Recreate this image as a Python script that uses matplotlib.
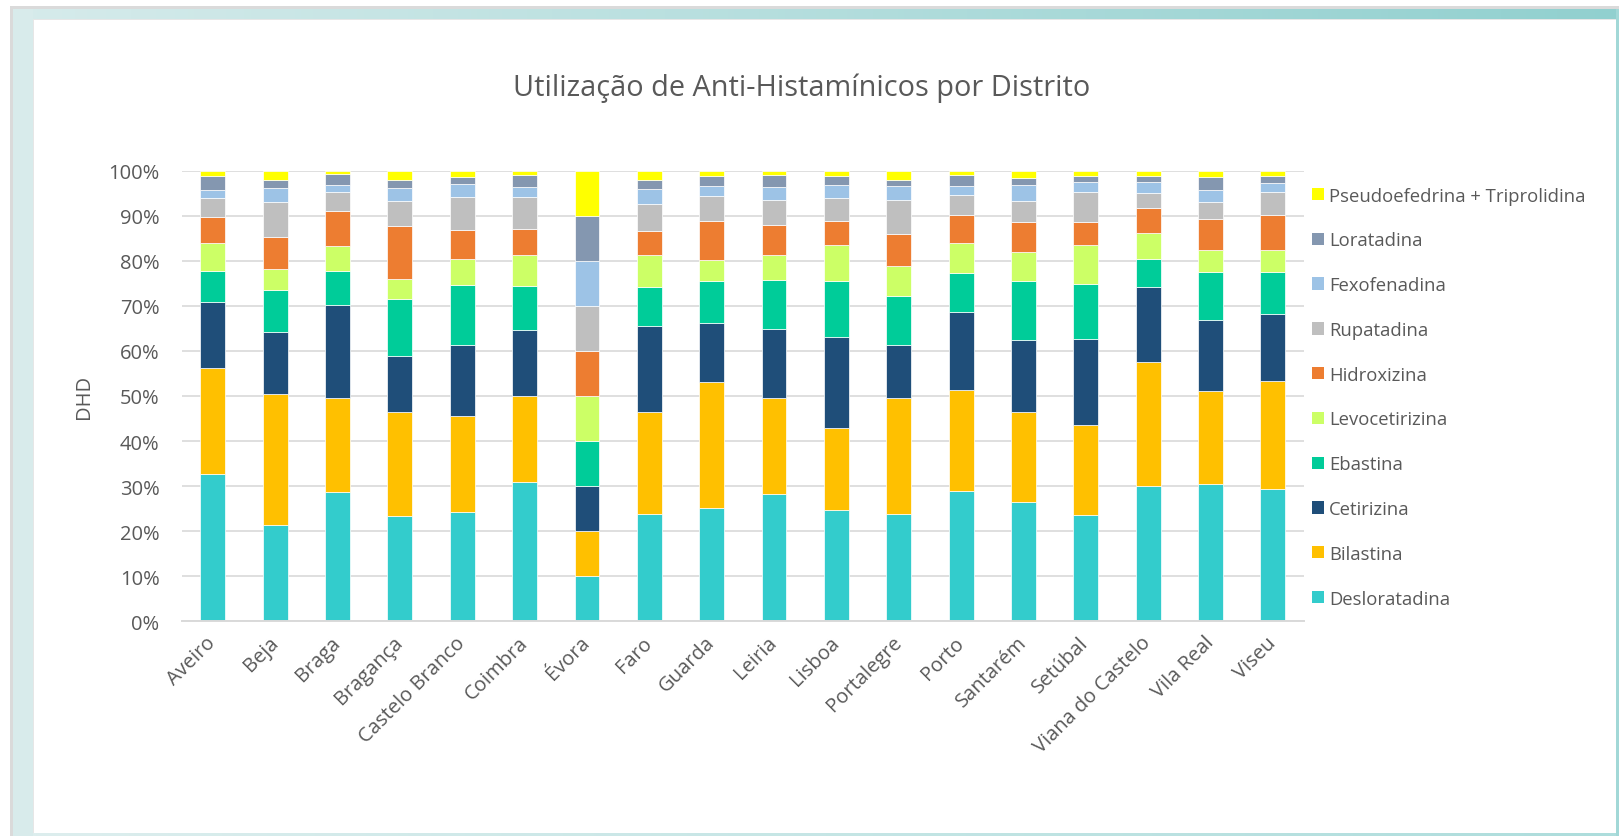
import numpy as np
import matplotlib
matplotlib.use("Agg")
import matplotlib.pyplot as plt
from matplotlib.patches import Rectangle
from matplotlib.ticker import PercentFormatter
from matplotlib.colors import LinearSegmentedColormap

# ---- data: share (%) of each anti-histamine per district ----
districts = ["Aveiro", "Beja", "Braga", "Bragança", "Castelo Branco", "Coimbra", "Évora",
             "Faro", "Guarda", "Leiria", "Lisboa", "Portalegre", "Porto", "Santarém",
             "Setúbal", "Viana do Castelo", "Vila Real", "Viseu"]

desloratadina = [32.8, 21.4, 28.6, 23.4, 24.3, 31.0, 10.0, 23.9, 25.1, 28.3, 24.6, 23.9, 29.0, 26.4, 23.7, 30.0, 30.4, 29.4]
bilastina = [23.5, 29.0, 21.0, 23.0, 21.3, 19.0, 10.0, 22.6, 27.9, 21.3, 18.4, 25.7, 22.4, 20.0, 19.9, 27.6, 20.7, 24.0]
cetirizina = [14.6, 13.7, 20.7, 12.5, 15.8, 14.6, 10.0, 19.1, 13.2, 15.3, 20.1, 11.8, 17.2, 16.1, 19.1, 16.7, 15.8, 14.9]
ebastina = [6.8, 9.4, 7.4, 12.7, 13.3, 9.8, 10.0, 8.6, 9.3, 10.8, 12.5, 10.9, 8.6, 13.0, 12.1, 6.2, 10.7, 9.2]
levocetirizina = [6.2, 4.6, 5.6, 4.4, 5.6, 7.0, 10.0, 7.1, 4.7, 5.7, 8.0, 6.5, 6.7, 6.5, 8.6, 5.7, 4.8, 5.0]
hidroxizina = [5.9, 7.2, 7.7, 11.8, 6.6, 5.7, 10.0, 5.3, 8.7, 6.6, 5.2, 7.1, 6.3, 6.7, 5.3, 5.6, 6.8, 7.7]
rupatadina = [4.1, 7.8, 4.2, 5.5, 7.3, 7.0, 10.0, 5.9, 5.4, 5.6, 5.1, 7.7, 4.3, 4.5, 6.5, 3.2, 3.9, 5.0]
fexofenadina = [1.9, 3.1, 1.6, 2.9, 2.8, 2.3, 10.0, 3.5, 2.3, 2.8, 3.0, 3.0, 2.2, 3.6, 2.2, 2.4, 2.6, 2.1]
loratadina = [3.1, 1.7, 2.4, 1.7, 1.7, 2.7, 10.0, 2.0, 2.3, 2.6, 2.0, 1.3, 2.4, 1.6, 1.5, 1.5, 3.0, 1.6]
pseudo_triprolidina = [1.1, 2.1, 0.8, 2.1, 1.3, 0.9, 10.0, 2.0, 1.1, 1.0, 1.1, 2.1, 0.9, 1.6, 1.1, 1.1, 1.3, 1.1]

series_names = ["Desloratadina", "Bilastina", "Cetirizina", "Ebastina", "Levocetirizina",
                "Hidroxizina", "Rupatadina", "Fexofenadina", "Loratadina",
                "Pseudoefedrina + Triprolidina"]
series_values = [desloratadina, bilastina, cetirizina, ebastina, levocetirizina,
                 hidroxizina, rupatadina, fexofenadina, loratadina, pseudo_triprolidina]
series_colors = ["#33CCCC", "#FFC000", "#1F4E79", "#00CC99", "#CCFF66",
                 "#ED7D31", "#BFBFBF", "#9DC3E6", "#8497B0", "#FFFF00"]

title = "Utilização de Anti-Histamínicos por Distrito"
y_label = "DHD"

TEXT = "#595959"
GRID = "#D9D9D9"
plt.rcParams["font.family"] = ["Open Sans", "DejaVu Sans"]

W, H = 1619, 837
fig = plt.figure(figsize=(W / 100, H / 100), dpi=100)
fig.patch.set_facecolor("white")

# ---- decorative frame (pixel coordinates) ----
bg = fig.add_axes([0, 0, 1, 1], zorder=-10)
bg.set_xlim(0, W)
bg.set_ylim(H, 0)
bg.axis("off")
grad = np.linspace(0, 1, 256)[None, :]
top_cmap = LinearSegmentedColormap.from_list("top", ["#D6EBEB", "#91D0CF"])
bot_cmap = LinearSegmentedColormap.from_list("bot", ["#DDEEEE", "#ADDDDC"])
bg.add_patch(Rectangle((10, 7), W - 10, 2.5, color="#DADADA", lw=0))
bg.add_patch(Rectangle((10, 7), 2.5, H - 7, color="#DADADA", lw=0))
bg.imshow(grad, extent=(12, W, 19.5, 9.5), aspect="auto", cmap=top_cmap)
bg.imshow(grad, extent=(33, W, H, 834), aspect="auto", cmap=bot_cmap)
bg.add_patch(Rectangle((12.5, 9.5), 20, H - 9.5, color="#D8EBEB", lw=0))
bg.add_patch(Rectangle((1615.8, 9.5), W - 1615.8, H - 9.5, color="#A2D8D7", lw=0))
bg.add_patch(Rectangle((32.5, 19.5), W - 32.5 - 3.2, 1.3, color="#E6E6E6", lw=0))
bg.add_patch(Rectangle((32.5, 19.5), 1.0, H - 19.5 - 3, color="#E6E6E6", lw=0))

# ---- chart ----
left, right, top, bottom = 181.7, 1304.0, 171.7, 622.3
ax = fig.add_axes([left / W, 1 - bottom / H, (right - left) / W, (bottom - top) / H])
ax.set_facecolor("none")

x = np.arange(len(districts))
totals = np.sum(np.array(series_values), axis=0)
base = np.zeros(len(districts))
for name, vals, col in zip(series_names, series_values, series_colors):
    share = np.array(vals) / totals
    ax.bar(x, share, 0.4, bottom=base, color=col, label=name,
           edgecolor="white", linewidth=0.5, zorder=3)
    base += share

ax.set_xlim(-0.5, len(districts) - 0.5)
ax.set_ylim(0, 1)
ax.set_yticks(np.arange(0, 1.01, 0.1))
ax.yaxis.set_major_formatter(PercentFormatter(1.0, decimals=0))
ax.grid(axis="y", color=GRID, linewidth=1.2, zorder=0)
for s in ["left", "right", "top"]:
    ax.spines[s].set_visible(False)
ax.spines["bottom"].set_color(GRID)
ax.spines["bottom"].set_linewidth(1.4)
ax.spines["bottom"].set_zorder(4)

ax.tick_params(axis="y", length=0, pad=16, labelsize=14.5, labelcolor=TEXT)
ax.tick_params(axis="x", length=0, pad=13, labelsize=14.5, labelcolor=TEXT)
ax.set_xticks(x)
ax.set_xticklabels(districts, rotation=45, ha="right", va="center", rotation_mode="anchor")

ax.set_ylabel(y_label, fontsize=14.5, color=TEXT, labelpad=10)

fig.text(802 / W, 1 - 88 / H, title, ha="center", va="center", fontsize=20.8, color=TEXT)

handles, labels = ax.get_legend_handles_labels()
leg = fig.legend(handles[::-1], labels[::-1], loc="upper left",
                 bbox_to_anchor=(1306 / W, 1 - 182 / H), frameon=False,
                 fontsize=13.3, labelcolor=TEXT, handlelength=0.65, handleheight=0.65,
                 handletextpad=0.3, labelspacing=1.45, borderaxespad=0, borderpad=0.3)
for h in leg.legend_handles:
    h.set_linewidth(0)

fig.savefig("out.png", dpi=100, facecolor=fig.get_facecolor())
